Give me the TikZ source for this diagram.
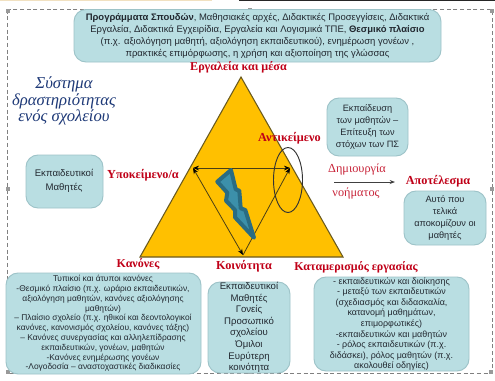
\documentclass[tikz,border=0pt]{standalone}
\usepackage{fontspec}
\setmainfont{Liberation Sans}
\newfontfamily\serifgr{Liberation Serif}
\usetikzlibrary{arrows.meta}
\definecolor{boxfill}{HTML}{B9DEE2}
\definecolor{boxline}{HTML}{9DC3C8}
\definecolor{triyellow}{HTML}{FFC000}
\definecolor{triline}{HTML}{6A5A1E}
\definecolor{redlabel}{HTML}{C00018}
\definecolor{titleblue}{HTML}{1F3A78}
\definecolor{bolt}{HTML}{3C90AA}
\definecolor{boltline}{HTML}{2A6C82}
\definecolor{txt}{HTML}{222830}
\tikzset{
  x=0.75pt,y=-0.75pt,
  infobox/.style={draw=boxline,line width=0.7pt,fill=boxfill,rounded corners=9pt},
  boxtext/.style={text=txt,align=center,inner sep=0pt,font=\fontsize{6.6pt}{8.05pt}\selectfont},
  redtitle/.style={text=redlabel,inner sep=0pt,font=\serifgr\bfseries\fontsize{9.2pt}{10pt}\selectfont},
  innerline/.style={draw=triline!70!black,line width=0.6pt},
  handle/.style={fill=gray!80,draw=none,minimum size=3pt,inner sep=0pt}
}
\begin{document}
\begin{tikzpicture}
\useasboundingbox (0,0) rectangle (495,380);
\fill[white] (0,0) rectangle (495,380);
% top strips
\fill[yellow!20!brown!30] (0,0) rectangle (212,1);
\fill[black!85] (239,0) rectangle (495,1);
% selection frame
\draw[gray,line width=0.4pt,densely dashed] (7,9.5) rectangle (492,373);
\foreach \hx/\hy [count=\i] in {8/11,250/10,492/11,8/189,492/189,8/372,250/372,491/372}
  \node[handle] (h\i) at (\hx,\hy) {};
% boxes
\draw[infobox] (74,9.5) rectangle (441,62);
\node[boxtext,font=\fontsize{7.1pt}{9.05pt}\selectfont] (prog) at (257.5,36) {\textbf{Προγράμματα Σπουδών}, Μαθησιακές αρχές, Διδακτικές Προσεγγίσεις, Διδακτικά\\Εργαλεία, Διδακτικά Εγχειρίδια, Εργαλεία και Λογισμικά ΤΠΕ, \textbf{Θεσμικό πλαίσιο}\\(π.χ. αξιολόγηση μαθητή, αξιολόγηση εκπαιδευτικού), ενημέρωση γονέων ,\\πρακτικές επιμόρφωσης, η χρήση και αξιοποίηση της γλώσσας};
\draw[infobox] (26,155) rectangle (103,208);
\node[boxtext,font=\fontsize{7.2pt}{10pt}\selectfont] (subj) at (64,181) {Εκπαιδευτικοί\\Μαθητές};
\draw[infobox] (327,98) rectangle (408,156);
\node[boxtext,font=\fontsize{6.9pt}{8.9pt}\selectfont] (educ) at (367.5,127) {Εκπαίδευση\\των μαθητών –\\Επίτευξη των\\στόχων των ΠΣ};
\draw[infobox] (404,191) rectangle (486,245);
\node[boxtext,font=\fontsize{6.9pt}{8.9pt}\selectfont] (take) at (445,218) {Αυτό που\\τελικά\\αποκομίζουν οι\\μαθητές};
\draw[infobox] (6,273) rectangle (201,374);
\node[boxtext,font=\fontsize{6.3pt}{7.35pt}\selectfont] (rules) at (103,323.5) {Τυπικοί και άτυποι κανόνες\\-Θεσμικό πλαίσιο (π.χ. ωράριο εκπαιδευτικών,\\αξιολόγηση μαθητών, κανόνες αξιολόγησης\\μαθητών)\\– Πλαίσιο σχολείο (π.χ. ηθικοί και δεοντολογικοί\\κανόνες, κανονισμός σχολείου, κανόνες τάξης)\\-- Κανόνες συνεργασίας και αλληλεπίδρασης\\εκπαιδευτικών, γονέων, μαθητών\\-Κανόνες ενημέρωσης γονέων\\-Λογοδοσία – αναστοχαστικές διαδικασίες};
\draw[infobox] (208,282) rectangle (290,373);
\node[boxtext,font=\fontsize{7.2pt}{8.7pt}\selectfont] (comm) at (249,327.5) {Εκπαιδευτικοί\\Μαθητές\\Γονείς\\Προσωπικό\\σχολείου\\Όμιλοι\\Ευρύτερη\\κοινότητα};
\draw[infobox] (314,277) rectangle (469,371);
\node[boxtext,font=\fontsize{6.7pt}{7.95pt}\selectfont] (divis) at (391.5,324) {- εκπαιδευτικών και διοίκησης\\- μεταξύ των εκπαιδευτικών\\(σχεδιασμός και διδασκαλία,\\κατανομή μαθημάτων,\\επιμορφωτικές)\\-εκπαιδευτικών και μαθητών\\- ρόλος εκπαιδευτικών (π.χ.\\διδάσκει), ρόλος μαθητών (π.χ.\\ακολουθεί οδηγίες)};
% title
\node[text=titleblue,align=center,inner sep=0pt,font=\serifgr\itshape\fontsize{12.5pt}{12.2pt}\selectfont] (title) at (64,101) {Σύστημα\\δραστηριότητας\\ενός σχολείου};
% triangle
\coordinate (A) at (241,77);
\coordinate (B) at (140,257);
\coordinate (C) at (343,257);
\draw[fill=triyellow,draw=triline,line width=0.8pt] (A) -- (B) -- (C) -- cycle;
\coordinate (L) at (193,168);
\coordinate (R) at (290,168);
\coordinate (D) at (243,255);
\draw[innerline,{Stealth[length=4.5pt,width=3.5pt,black]}-{Stealth[length=4.5pt,width=3.5pt,black]}] (L) -- (R);
\draw[innerline,{Stealth[length=4.5pt,width=3.5pt,black]}-{Stealth[length=4.5pt,width=3.5pt,black]}] (L) -- (D);
\draw[innerline,-{Stealth[length=4.5pt,width=3.5pt,black]}] (D) -- (R);
% lightning bolt
\draw[fill=bolt,draw=boltline,line width=3pt,line join=round] (231,170) -- (217.3,181.7) -- (227.3,192.7) -- (226,200.7) -- (235,210) -- (235,217.3) -- (254,237.7) -- (245.3,210) -- (240.7,208.3) -- (239.3,190.7) -- (235.7,189.3) -- cycle;
% ellipse
\draw[black!80,line width=0.7pt] (288,180) ellipse [x radius=14.5,y radius=32.5];
% labels
\node[redtitle,font=\serifgr\bfseries\fontsize{9.05pt}{10pt}\selectfont] (tools) at (238.5,67) {Εργαλεία και μέσα};
\node[redtitle] (obj) at (289.5,138) {Αντικείμενο};
\node[redtitle] (subjl) at (143,175) {Υποκείμενο/α};
\node[redtitle,font=\serifgr\bfseries\fontsize{9pt}{10pt}\selectfont] (rulesl) at (138,264) {Κανόνες};
\node[redtitle] (comml) at (244,266) {Κοινότητα};
\node[redtitle,font=\serifgr\bfseries\fontsize{9pt}{10pt}\selectfont] (divl) at (356,267) {Καταμερισμός εργασίας};
\node[redtitle] (res) at (438,181) {Αποτέλεσμα};
\node[text=redlabel!85,inner sep=0pt,font=\serifgr\fontsize{9.2pt}{10pt}\selectfont] (m1) at (357,169) {Δημιουργία};
\node[text=redlabel!85,inner sep=0pt,font=\serifgr\fontsize{9.2pt}{10pt}\selectfont] (m2) at (356,193) {νοήματος};
\coordinate (as) at (334,182);
\coordinate (ae) at (395,182);
\draw[black!75,line width=0.6pt,-{Stealth[length=4pt,width=3pt]}] (as) -- (ae);
\end{tikzpicture}
\end{document}
